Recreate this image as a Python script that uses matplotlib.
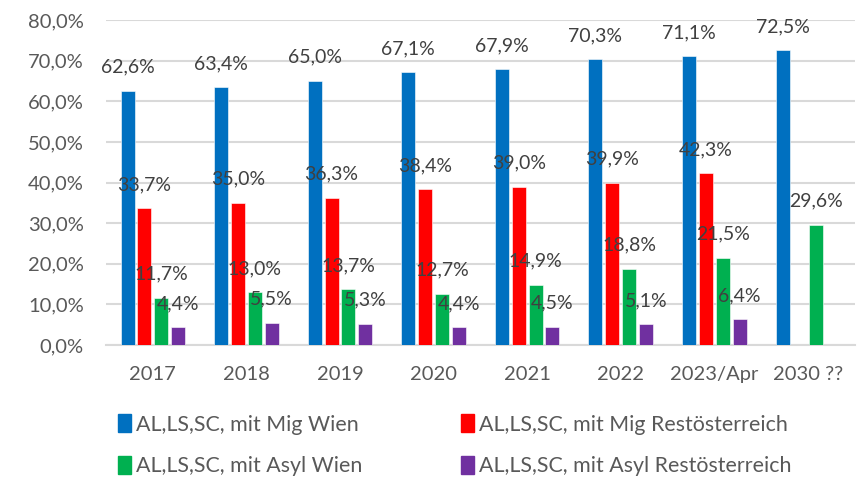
import numpy as np
import matplotlib
matplotlib.use("Agg")
import matplotlib.pyplot as plt
from matplotlib.patches import Patch

# data (nan = no bar)
years = ["2017", "2018", "2019", "2020", "2021", "2022", "2023/Apr", "2030 ??"]
mig_wien = [62.6, 63.4, 65.0, 67.1, 67.9, 70.3, 71.1, 72.5]
mig_rest = [33.7, 35.0, 36.3, 38.4, 39.0, 39.9, 42.3, np.nan]
asyl_wien = [11.7, 13.0, 13.7, 12.7, 14.9, 18.8, 21.5, 29.6]
asyl_rest = [4.4, 5.5, 5.3, 4.4, 4.5, 5.1, 6.4, np.nan]
series_names = ["AL,LS,SC, mit Mig Wien", "AL,LS,SC, mit Mig Restösterreich",
                "AL,LS,SC, mit Asyl Wien", "AL,LS,SC, mit Asyl Restösterreich"]
colors = ["#0070C0", "#FF0000", "#00B050", "#7030A0"]

plt.rcParams['font.family'] = ['Lato', 'DejaVu Sans']

fig = plt.figure(figsize=(8.59, 4.82), dpi=100)
ax = fig.add_axes([0.1234, 0.284, 0.8716, 0.6745])

x = np.arange(len(years))
width = 0.15
step = 0.18
all_series = [mig_wien, mig_rest, asyl_wien, asyl_rest]

for i, (vals, c) in enumerate(zip(all_series, colors)):
    pos = x + (i - 1.5) * step
    ax.bar(pos, vals, width, color=c, edgecolor="white", linewidth=0.4, zorder=3)
    for px, v in zip(pos, vals):
        if np.isnan(v):
            continue
        ax.annotate(f"{v:.1f}".replace(".", ",") + "%", (px, v),
                    xytext=(0, 17), textcoords="offset points",
                    ha="center", va="center", fontsize=14, color="#404040", zorder=5)

ax.set_ylim(0, 80)
ax.set_xlim(-0.5, len(years) - 0.5)
ax.set_yticks(np.arange(0, 81, 10))
ax.set_yticklabels([f"{t:.1f}".replace(".", ",") + "%" for t in np.arange(0, 81, 10)])
ax.set_xticks(x)
ax.set_xticklabels(years)
ax.tick_params(axis="both", length=0, labelsize=14.5, labelcolor="#595959")
ax.tick_params(axis="y", pad=16)
ax.tick_params(axis="x", pad=15)

ax.grid(axis="y", color="#D9D9D9", linewidth=1.5, zorder=0)
for s in ["top", "right", "left"]:
    ax.spines[s].set_visible(False)
ax.spines["bottom"].set_color("#D9D9D9")
ax.spines["bottom"].set_linewidth(1.5)

# legend is filled column-wise, so reorder to get the row-wise layout
order = [0, 2, 1, 3]
handles = [Patch(color=colors[k]) for k in order]
labels = [series_names[k] for k in order]
fig.legend(handles, labels, ncol=2, loc="upper left",
           bbox_to_anchor=(0.115, 0.18), frameon=False, fontsize=15.4,
           labelcolor="#595959", handlelength=0.6, handleheight=0.9,
           handletextpad=0.25, columnspacing=4.6, labelspacing=1.0)

fig.savefig("out.png", dpi=100)
